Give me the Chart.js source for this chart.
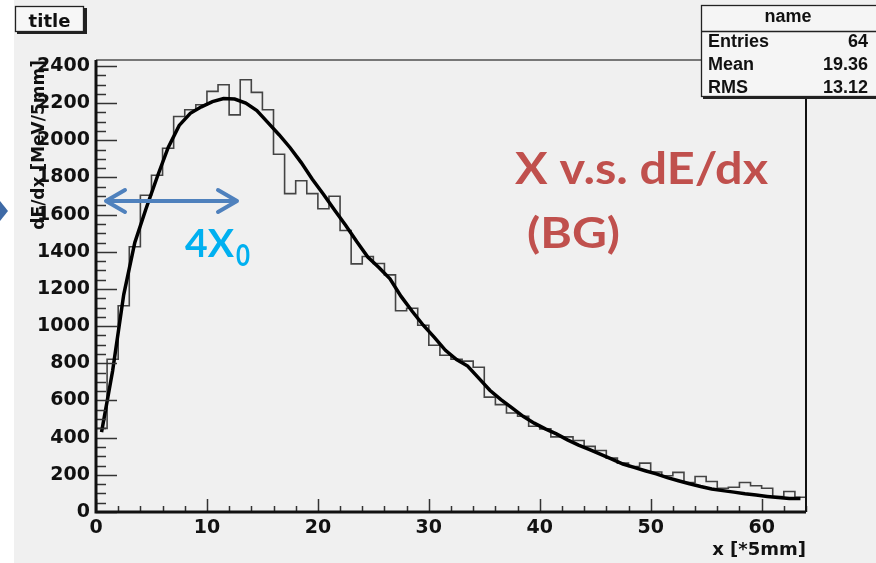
<!DOCTYPE html>
<html><head><meta charset="utf-8">
<script src="https://cdn.jsdelivr.net/npm/chart.js@4.4.0/dist/chart.umd.min.js"></script>
<style>html,body{margin:0;padding:0;background:#f0f0f0;overflow:hidden}#wrap{width:876px;height:563px;position:relative}canvas{display:block}</style>
</head><body><div id="wrap"><canvas id="c" width="876" height="563"></canvas></div>
<script>
// ---- data ----
const binValues = [450, 822, 1110, 1427, 1704, 1812, 1957, 2128, 2164, 2191,
  2263, 2299, 2137, 2326, 2258, 2164, 1925, 1713, 1782, 1713,
  1632, 1699, 1515, 1335, 1375, 1337, 1276, 1083, 1096, 1005,
  897, 843, 822, 812, 779, 618, 578, 533, 515, 461,
  447, 404, 404, 385, 353, 331, 290, 263, 245, 263,
  215, 195, 213, 159, 191, 164, 128, 133, 159, 141,
  128, 83, 110, 79];
const fitValues = [430, 760, 1170, 1450, 1630, 1800, 1960, 2080, 2145, 2180,
  2208, 2225, 2222, 2200, 2160, 2095, 2030, 1960, 1880, 1790,
  1710, 1625, 1543, 1455, 1372, 1315, 1255, 1160, 1080, 1005,
  940, 870, 820, 785, 720, 655, 605, 560, 515, 478,
  447, 420, 388, 360, 335, 310, 285, 258, 240, 222,
  205, 185, 168, 152, 137, 124, 115, 107, 98, 91,
  84, 78, 73, 72];
const yTickValues = [0, 200, 400, 600, 800, 1000, 1200, 1400, 1600, 1800, 2000, 2200, 2400];
const xTickValues = [0, 10, 20, 30, 40, 50, 60];
const statsLabels = ['Entries', 'Mean', 'RMS'];
const statsValues = ['64', '19.36', '13.12'];

const histPoints = binValues.map((v, i) => ({x: i, y: v}));
histPoints.push({x: binValues.length, y: binValues[binValues.length - 1]});
const fitPoints = fitValues.map((v, i) => ({x: i + 0.5, y: v}));

const TICK_FONT = {family: 'DejaVu Sans', weight: 'bold', size: 19};

function fitText(ctx, text, left, baseline, capH, width, family, color) {
  ctx.save();
  ctx.font = 'bold 100px ' + family;
  const m = ctx.measureText('H');
  const size = capH / (m.actualBoundingBoxAscent / 100);
  ctx.font = 'bold ' + size + 'px ' + family;
  const w = ctx.measureText(text).width;
  ctx.translate(left, baseline);
  ctx.scale(width / w, 1);
  ctx.fillStyle = color;
  ctx.textBaseline = 'alphabetic';
  ctx.textAlign = 'left';
  ctx.fillText(text, 0, 0);
  ctx.restore();
}

const rootPlugin = {
  id: 'rootLook',
  beforeDraw(chart) {
    const ctx = chart.ctx;
    ctx.save();
    ctx.fillStyle = '#ffffff';
    ctx.fillRect(0, 0, chart.width, chart.height);
    ctx.fillStyle = '#f0f0f0';
    ctx.fillRect(14, 0, chart.width - 14, chart.height);
    ctx.restore();
  },
  afterDatasetsDraw(chart) {
    const ctx = chart.ctx;
    const a = chart.chartArea;
    const xs = chart.scales.x, ys = chart.scales.y;
    ctx.save();
    // ticks
    ctx.strokeStyle = '#333';
    ctx.lineWidth = 1.5;
    ctx.beginPath();
    for (let v = 0; v <= ys.max; v += 50) {
      const y = Math.round(ys.getPixelForValue(v)) + 0.5;
      const len = (v % 200 === 0) ? 21 : 10;
      ctx.moveTo(a.left, y); ctx.lineTo(a.left + len, y);
    }
    for (let v = 0; v <= xs.max; v += 2) {
      const x = Math.round(xs.getPixelForValue(v)) + 0.5;
      const len = (v % 10 === 0) ? 13 : 6;
      ctx.moveTo(x, a.bottom); ctx.lineTo(x, a.bottom - len);
    }
    ctx.stroke();
    // frame
    ctx.strokeStyle = '#777';
    ctx.lineWidth = 2;
    ctx.beginPath(); ctx.moveTo(a.left, a.top); ctx.lineTo(a.right, a.top); ctx.stroke();
    ctx.strokeStyle = '#111';
    ctx.beginPath(); ctx.moveTo(a.right, a.top); ctx.lineTo(a.right, a.bottom); ctx.stroke();
    ctx.lineWidth = 3;
    ctx.beginPath(); ctx.moveTo(a.left, a.top); ctx.lineTo(a.left, a.bottom); ctx.lineTo(a.right, a.bottom); ctx.stroke();
    ctx.restore();
  },
  afterDraw(chart) {
    const ctx = chart.ctx;
    ctx.save();
    // title box
    ctx.fillStyle = '#222';
    ctx.fillRect(17, 31, 69, 3);
    ctx.fillRect(84, 8, 3, 26);
    ctx.fillStyle = '#f7f7f7';
    ctx.fillRect(15, 6, 69, 26);
    ctx.strokeStyle = '#222'; ctx.lineWidth = 1.3;
    ctx.strokeRect(15.5, 6.5, 68, 25);
    ctx.fillStyle = '#111';
    ctx.font = 'bold 18px "DejaVu Sans"';
    ctx.textAlign = 'center'; ctx.textBaseline = 'alphabetic';
    ctx.fillText('title', 49.5, 27);

    // stats box
    ctx.fillStyle = '#222';
    ctx.fillRect(703, 96, 180, 3);
    ctx.fillStyle = '#f5f5f5';
    ctx.fillRect(701, 5, 180, 92);
    ctx.strokeStyle = '#222'; ctx.lineWidth = 1.3;
    ctx.strokeRect(701.5, 5.5, 180, 91);
    ctx.beginPath(); ctx.moveTo(701, 31.5); ctx.lineTo(876, 31.5); ctx.stroke();
    ctx.fillStyle = '#111';
    ctx.font = 'bold 18px "Liberation Sans"';
    ctx.textAlign = 'center';
    ctx.fillText('name', 788, 22);
    const rowsY = [47, 70, 93];
    statsLabels.forEach((lab, i) => {
      ctx.textAlign = 'left';
      ctx.fillText(lab, 708, rowsY[i]);
      ctx.textAlign = 'right';
      ctx.fillText(statsValues[i], 868, rowsY[i]);
    });

    // blue arrows
    ctx.strokeStyle = '#4f81bd'; ctx.lineWidth = 4; ctx.lineCap = 'round'; ctx.lineJoin = 'round';
    ctx.beginPath();
    ctx.moveTo(106, 201); ctx.lineTo(237, 201);
    ctx.moveTo(125, 190); ctx.lineTo(106, 201); ctx.lineTo(125, 212);
    ctx.moveTo(218, 190); ctx.lineTo(237, 201); ctx.lineTo(218, 212);
    ctx.stroke();
    ctx.fillStyle = '#3e6aa6';
    ctx.beginPath(); ctx.moveTo(0, 201); ctx.lineTo(8, 211); ctx.lineTo(0, 221); ctx.closePath(); ctx.fill();

    // annotations
    fitText(ctx, '4X', 185, 257, 28, 49, 'Lato', '#00b0f0');
    fitText(ctx, '0', 236, 266, 22, 14, 'Lato', '#00b0f0');
    fitText(ctx, 'X v.s. dE/dx', 515, 184, 32, 253, 'Lato', '#c0504d');
    fitText(ctx, '(BG)', 527, 248, 30, 93, 'Lato', '#c0504d');
    ctx.restore();
  }
};

new Chart(document.getElementById('c'), {
  type: 'line',
  data: {
    datasets: [
      {label: 'fit', data: fitPoints, borderColor: '#000', borderWidth: 3.5, pointRadius: 0, tension: 0, fill: false},
      {label: 'hist', data: histPoints, borderColor: '#444', borderWidth: 1.6, pointRadius: 0, stepped: true, fill: false}
    ]
  },
  options: {
    responsive: false,
    animation: false,
    devicePixelRatio: 1,
    layout: {padding: {left: 0, right: 70, top: 60, bottom: 0}},
    plugins: {legend: {display: false}, tooltip: {enabled: false}},
    scales: {
      x: {
        type: 'linear', min: 0, max: 64,
        afterBuildTicks: s => { s.ticks = xTickValues.map(v => ({value: v})); },
        afterFit: s => { s.height = 51; },
        grid: {display: false, drawTicks: false},
        border: {display: false},
        ticks: {font: TICK_FONT, color: '#111', padding: 5, maxRotation: 0, autoSkip: false, callback: v => String(v)},
        title: {display: true, text: 'x [*5mm]', align: 'end', color: '#111',
          font: {family: 'DejaVu Sans', weight: 'bold', size: 18}, padding: {top: 0, bottom: 2}}
      },
      y: {
        type: 'linear', min: 0, max: 2432,
        afterBuildTicks: s => { s.ticks = yTickValues.map(v => ({value: v})); },
        afterFit: s => { s.width = 96; },
        grid: {display: false, drawTicks: false},
        border: {display: false},
        ticks: {font: TICK_FONT, color: '#111', padding: 6, autoSkip: false, callback: v => String(v)},
        title: {display: true, text: 'dE/dx [MeV/5mm]', align: 'end', color: '#111',
          font: {family: 'DejaVu Sans', weight: 'bold', size: 17}, padding: {top: 29, bottom: 0}}
      }
    }
  },
  plugins: [rootPlugin]
});
</script>
</body></html>
